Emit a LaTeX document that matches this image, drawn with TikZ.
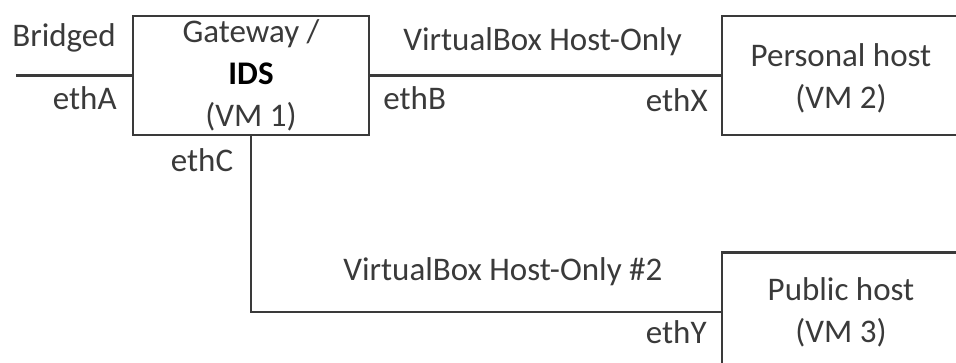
\documentclass[tikz,border=0pt]{standalone}
\usepackage{fontspec}
\setmainfont{Carlito}
\usepackage{xcolor}
\usepackage{tikz}
\usetikzlibrary{calc}
\definecolor{txtgray}{HTML}{3A3A3A}
\tikzset{
  vmbox/.style={draw=txtgray,line width=1.1pt,minimum width=119pt,minimum height=59.5pt,inner sep=0pt,align=center,text=txtgray},
  lbl/.style={text=txtgray,inner sep=0pt},
  link/.style={draw=txtgray,line width=1.1pt}
}

\begin{document}
\begin{tikzpicture}[x=0.5pt,y=-0.5pt,font=\fontsize{16.5}{21}\selectfont]
	  \useasboundingbox (0,0) rectangle (956,363);
	  \node[vmbox,minimum width=118pt] (gw) at (251,75.5) {Gateway /\\\textcolor{black}{\textbf{IDS}}\\(VM 1)};
	  \node[vmbox,label={[lbl,align=center,yshift=-1.5pt]center:Personal host\\(VM 2)}] (ph) at (841,75.5) {};
	  \node[vmbox,label={[lbl,align=center]center:Public host\\(VM 3)}] (pub) at (841,312) {};
	  \coordinate (br) at (16,75.5);
	  \draw[link] (br)--(gw.west);
	  \draw[link] (gw.east)--(ph.west);
	  \draw[link] (gw.south)|-(pub.west);
	  \node[lbl] (bridged) at (64,38) {Bridged};
	  \node[lbl,anchor=east] (etha) at (117,98) {ethA};
	  \node[lbl] (ethc) at (202,160) {ethC};
	  \node[lbl,anchor=west] (host1) at (403,42) {VirtualBox Host-Only};
	  \node[lbl,anchor=west] (ethb) at (383,98) {ethB};
	  \node[lbl,anchor=east] (ethx) at (708,100) {ethX};
	  \node[lbl,anchor=west] (host2) at (343,272) {VirtualBox Host-Only \#2};
	  \node[lbl,anchor=east] (ethy) at (707,332) {ethY};
	\end{tikzpicture}
\end{document}
